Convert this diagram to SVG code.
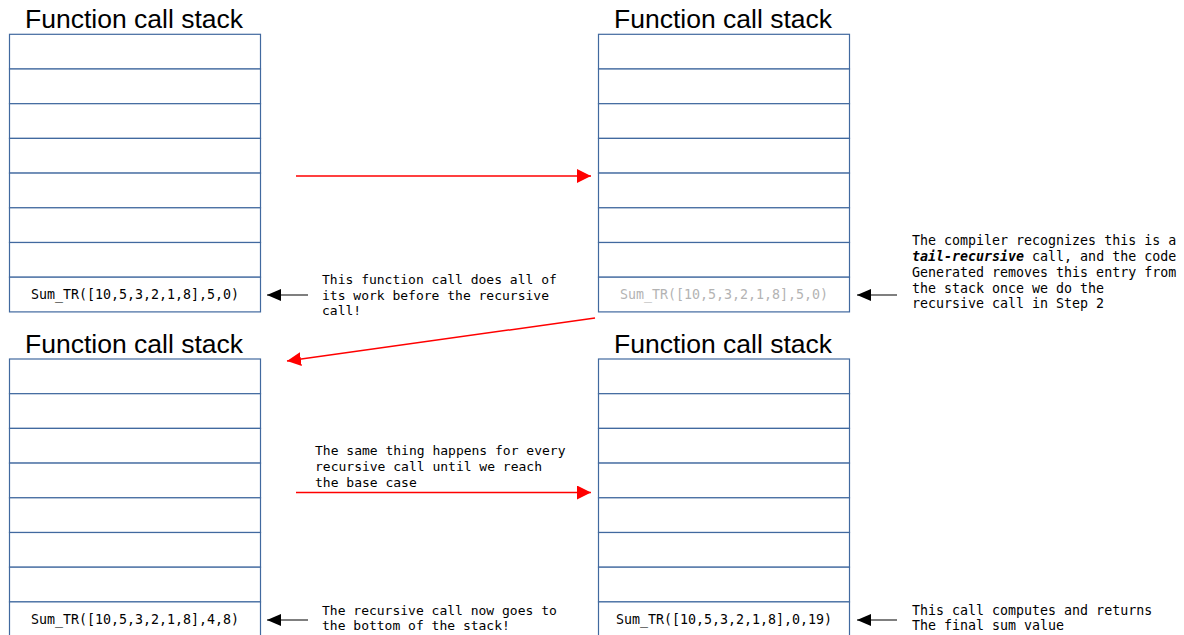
<svg xmlns="http://www.w3.org/2000/svg" width="1184" height="635" viewBox="0 0 1184 635">
<style>
.title{font-family:"Liberation Sans",Arial,sans-serif;font-size:25px;fill:#000}
.cell{fill:#fff;stroke:#41699f;stroke-width:1.2}
.call{font-family:"DejaVu Sans Mono",monospace;font-size:13.3px;fill:#000;text-anchor:middle}
.gray{fill:#b3b3b3}
.note{font-family:"DejaVu Sans Mono",monospace;font-size:13px;fill:#000}
.note2{font-family:"DejaVu Sans Mono",monospace;font-size:13.3px;fill:#000}
.blk{stroke:#000;stroke-width:1.2;fill:none;marker-end:url(#ab)}
.red{stroke:#f00;stroke-width:1.5;fill:none;marker-end:url(#ar)}
</style>
<defs>
<marker id="ab" markerWidth="14" markerHeight="12" refX="14" refY="6" orient="auto" markerUnits="userSpaceOnUse"><path d="M0,0 L14,6 L0,12 Z" fill="#000"/></marker>
<marker id="ar" markerWidth="14" markerHeight="14" refX="14" refY="7" orient="auto" markerUnits="userSpaceOnUse"><path d="M0,0 L14,7 L0,14 Z" fill="#f00"/></marker>
<g id="stack">
<rect class="cell" x="0" y="0" width="251" height="34.7"/>
<rect class="cell" x="0" y="34.7" width="251" height="34.7"/>
<rect class="cell" x="0" y="69.4" width="251" height="34.7"/>
<rect class="cell" x="0" y="104.1" width="251" height="34.7"/>
<rect class="cell" x="0" y="138.8" width="251" height="34.7"/>
<rect class="cell" x="0" y="173.5" width="251" height="34.7"/>
<rect class="cell" x="0" y="208.2" width="251" height="34.7"/>
<rect class="cell" x="0" y="242.9" width="251" height="34.7"/>
</g>
</defs>
<g id="stack1">
<text class="title" x="25" y="28" textLength="218" lengthAdjust="spacingAndGlyphs">Function call stack</text>
<use href="#stack" x="9.5" y="34.3"/>
<text class="call" x="135" y="299">Sum_TR([10,5,3,2,1,8],5,0)</text>
</g>
<g id="stack2">
<text class="title" x="614" y="28" textLength="218" lengthAdjust="spacingAndGlyphs">Function call stack</text>
<use href="#stack" x="598.5" y="34.3"/>
<text class="call gray" x="724" y="299">Sum_TR([10,5,3,2,1,8],5,0)</text>
</g>
<g id="stack3">
<text class="title" x="25" y="353" textLength="218" lengthAdjust="spacingAndGlyphs">Function call stack</text>
<use href="#stack" x="9.5" y="359"/>
<text class="call" x="135" y="624">Sum_TR([10,5,3,2,1,8],4,8)</text>
</g>
<g id="stack4">
<text class="title" x="614" y="353" textLength="218" lengthAdjust="spacingAndGlyphs">Function call stack</text>
<use href="#stack" x="598.5" y="359"/>
<text class="call" x="724" y="624">Sum_TR([10,5,3,2,1,8],0,19)</text>
</g>
<g id="note1" class="note">
<text x="322" y="284">This function call does all of</text>
<text x="322" y="299.5">its work before the recursive</text>
<text x="322" y="315">call!</text>
</g>
<g id="note2" class="note2">
<text x="912" y="245">The compiler recognizes this is a</text>
<text x="912" y="261"><tspan font-weight="bold" font-style="italic">tail-recursive</tspan> call, and the code</text>
<text x="912" y="277">Generated removes this entry from</text>
<text x="912" y="292.5">the stack once we do the</text>
<text x="912" y="308">recursive call in Step 2</text>
</g>
<g id="note3" class="note">
<text x="315" y="455">The same thing happens for every</text>
<text x="315" y="471">recursive call until we reach</text>
<text x="315" y="487">the base case</text>
</g>
<g id="note4" class="note">
<text x="322" y="615">The recursive call now goes to</text>
<text x="322" y="630">the bottom of the stack!</text>
</g>
<g id="note5" class="note2">
<text x="912" y="615">This call computes and returns</text>
<text x="912" y="630">The final sum value</text>
</g>
<g id="connectors">
<line class="blk" x1="308" y1="295" x2="267" y2="295"/>
<line class="blk" x1="897" y1="295" x2="857" y2="295"/>
<line class="blk" x1="308" y1="620" x2="267" y2="620"/>
<line class="blk" x1="897" y1="620" x2="857" y2="620"/>
<line class="red" x1="296" y1="176" x2="591" y2="176"/>
<line class="red" x1="595" y1="318" x2="287" y2="361"/>
<line class="red" x1="296" y1="492.5" x2="591" y2="492.5"/>
</g>
</svg>
